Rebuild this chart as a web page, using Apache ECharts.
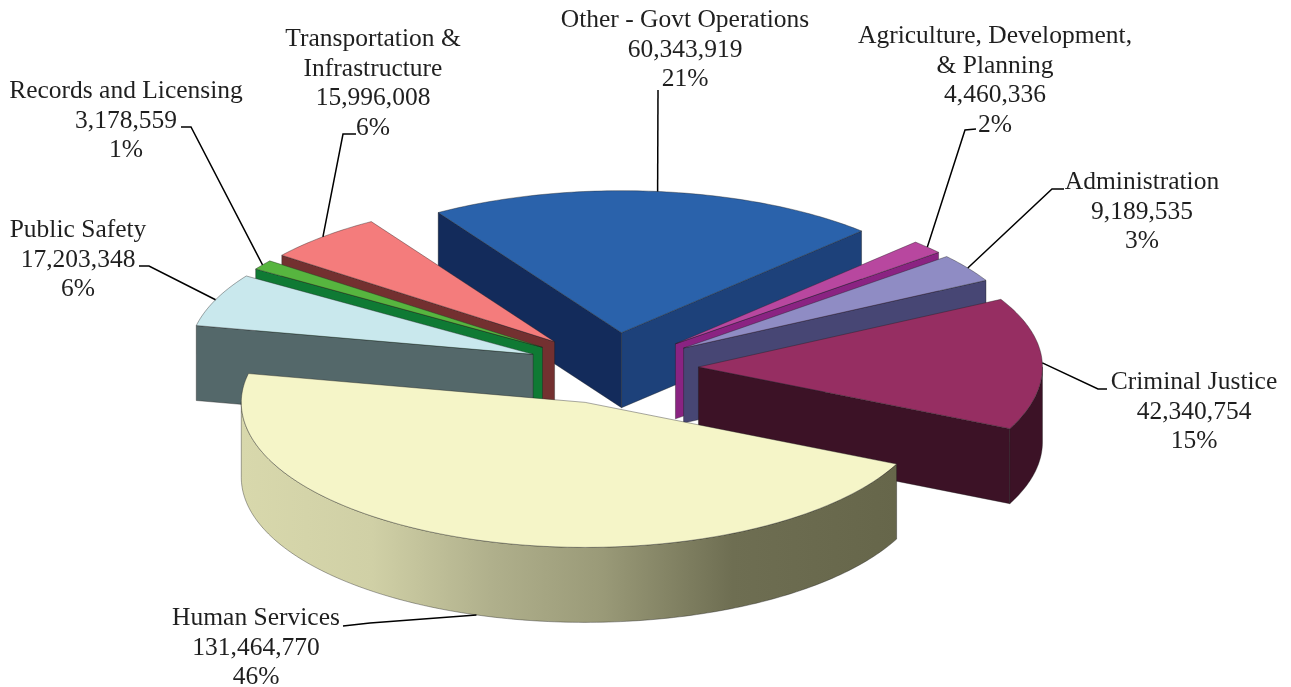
<!DOCTYPE html>
<html>
<head>
<meta charset="utf-8">
<style>
  html, body { margin: 0; padding: 0; background: #fff; }
  #chart { width: 1291px; height: 687px; }
</style>
<script src="https://cdn.jsdelivr.net/npm/echarts@6/dist/echarts.min.js"></script>
</head>
<body>
<div id="chart"></div>
<script>
// Budget by function, listed clockwise from the first slice
const categories = [
  'Other - Govt Operations',
  'Agriculture, Development,\n& Planning',
  'Administration',
  'Criminal Justice',
  'Human Services',
  'Public Safety',
  'Records and Licensing',
  'Transportation &\nInfrastructure'
];
const amounts = [60343919, 4460336, 9189535, 42340754, 131464770, 17203348, 3178559, 15996008];

// Back-to-front painting order for the exploded slices
const paintOrder = [0, 7, 6, 5, 1, 2, 3, 4];

// Slice colours: top face, wall at the start edge, wall at the end edge
const topColors = ['#2a62ab', '#b8479f', '#8f8cc4', '#962e62', '#f5f5c8', '#c9e8ed', '#57b53f', '#f47c7c'];
const startWallColors = ['#132b5b', '#8a2382', '#474674', '#3c1226', '#5e5e44', '#54686a', '#0f7a34', '#733030'];
const endWallColors = ['#1d417a', '#8a2382', '#474674', '#3c1226', '#5e5e44', '#54686a', '#0f7a34', '#733030'];

// Label block centres and the elbow where each leader line leaves its text
const labelCenters = [[685, 50], [995, 81], [1142, 212], [1194, 412], [256, 648], [78, 260], [126, 121], [373, 84]];
const leaderStarts = [
  [[658, 90]],
  [[976, 129], [965, 130]],
  [[1064, 189], [1052, 189]],
  [[1107, 389], [1098, 389]],
  [[343, 626], [370, 623]],
  [[139, 266], [149, 266]],
  [[181, 127], [191, 127]],
  [[356, 134], [343, 134]]
];

// Projection of the tilted pie; the near half of the ellipse reads slightly deeper
const pie = { cx: 612.5, cy: 368, rx: 344, ryBack: 142, ryFront: 145, depth: 75, explode: 0.25, startAngle: -32.2 };

const total = amounts.reduce((a, b) => a + b, 0);
const startAngles = [];
amounts.reduce((angle, v, i) => {
  startAngles[i] = angle;
  return angle + v / total * 360;
}, pie.startAngle);

const rad = d => d * Math.PI / 180;
const dy = deg => {
  const c = Math.cos(rad(deg));
  return -c * (c > 0 ? pie.ryBack : pie.ryFront);
};
// Point on the rim at an angle measured clockwise from twelve o'clock
const rim = (apex, deg, drop) => [
  apex[0] + Math.sin(rad(deg)) * pie.rx,
  apex[1] + dy(deg) + (drop || 0)
];
const arcPoints = (apex, from, to, drop) => {
  const pts = [];
  const steps = Math.max(2, Math.ceil(Math.abs(to - from)));
  for (let s = 0; s <= steps; s++) pts.push(rim(apex, from + (to - from) * s / steps, drop));
  return pts;
};
const apexOf = mid => [
  pie.cx + Math.sin(rad(mid)) * pie.rx * pie.explode,
  pie.cy + dy(mid) * pie.explode
];
const sweepOf = value => value / total * 360;
const edgeStyle = 'rgba(30,30,30,0.55)';

const face = (points, fill) => ({
  type: 'polygon',
  shape: { points },
  style: { fill, stroke: edgeStyle, lineWidth: 0.7 }
});

function renderSlice(params, api) {
  const index = api.value(0);
  const start = startAngles[index];
  const end = start + sweepOf(api.value(1));
  const mid = (start + end) / 2;
  const apex = apexOf(mid);
  const d = pie.depth;
  const children = [];

  const wall = (deg, fill) => {
    const tip = rim(apex, deg);
    return face([apex, tip, [tip[0], tip[1] + d], [apex[0], apex[1] + d]], fill);
  };
  if (Math.sin(rad(start)) < 0) children.push(wall(start, startWallColors[index]));
  if (Math.sin(rad(end)) > 0) children.push(wall(end, endWallColors[index]));

  // Outer wall only where the rim faces the viewer
  const from = Math.max(start, 90);
  const to = Math.min(end, 270);
  if (to > from) {
    const pts = arcPoints(apex, from, to, 0).concat(arcPoints(apex, to, from, d));
    const fill = index === 4
      ? new echarts.graphic.LinearGradient(0, 0, 1, 0, [
          { offset: 0, color: '#d8d8ac' },
          { offset: 0.2, color: '#d0d0a6' },
          { offset: 0.38, color: '#b0b08c' },
          { offset: 0.55, color: '#9a9a78' },
          { offset: 0.75, color: '#6e6e52' },
          { offset: 1, color: '#66664a' }
        ])
      : endWallColors[index];
    children.push(face(pts, fill));
  }

  children.push(face([apex].concat(arcPoints(apex, start, end, 0)), topColors[index]));
  return { type: 'group', children };
}

function renderLabel(params, api) {
  const index = api.value(0);
  const value = api.value(1);
  const start = startAngles[index];
  const mid = start + sweepOf(value) / 2;
  const apex = apexOf(mid);
  // The leader meets the outer wall's lower edge on slices whose middle faces the viewer
  const faces = Math.cos(rad(mid)) < -0.5;
  const anchor = rim(apex, mid, faces ? pie.depth : 0);
  const pct = Math.round(value / total * 100) + '%';
  const text = categories[index] + '\n' + value.toLocaleString('en-US') + '\n' + pct;
  return {
    type: 'group',
    children: [
      {
        type: 'polyline',
        shape: { points: leaderStarts[index].concat([anchor]) },
        style: { fill: 'none', stroke: '#000', lineWidth: 1.5 }
      },
      {
        type: 'text',
        x: labelCenters[index][0],
        y: labelCenters[index][1],
        style: {
          text,
          align: 'center',
          verticalAlign: 'middle',
          fill: '#1f1f1f',
          font: '25.5px "Liberation Serif", serif',
          lineHeight: 29.5
        }
      }
    ]
  };
}

const chart = echarts.init(document.getElementById('chart'), null, { renderer: 'canvas' });
const paintData = paintOrder.map(i => [i, amounts[i]]);
chart.setOption({
  backgroundColor: '#ffffff',
  animation: false,
  series: [
    { type: 'custom', coordinateSystem: 'none', silent: true, z: 2, renderItem: renderSlice, data: paintData },
    { type: 'custom', coordinateSystem: 'none', silent: true, z: 3, renderItem: renderLabel, data: paintData }
  ]
});
</script>
</body>
</html>
